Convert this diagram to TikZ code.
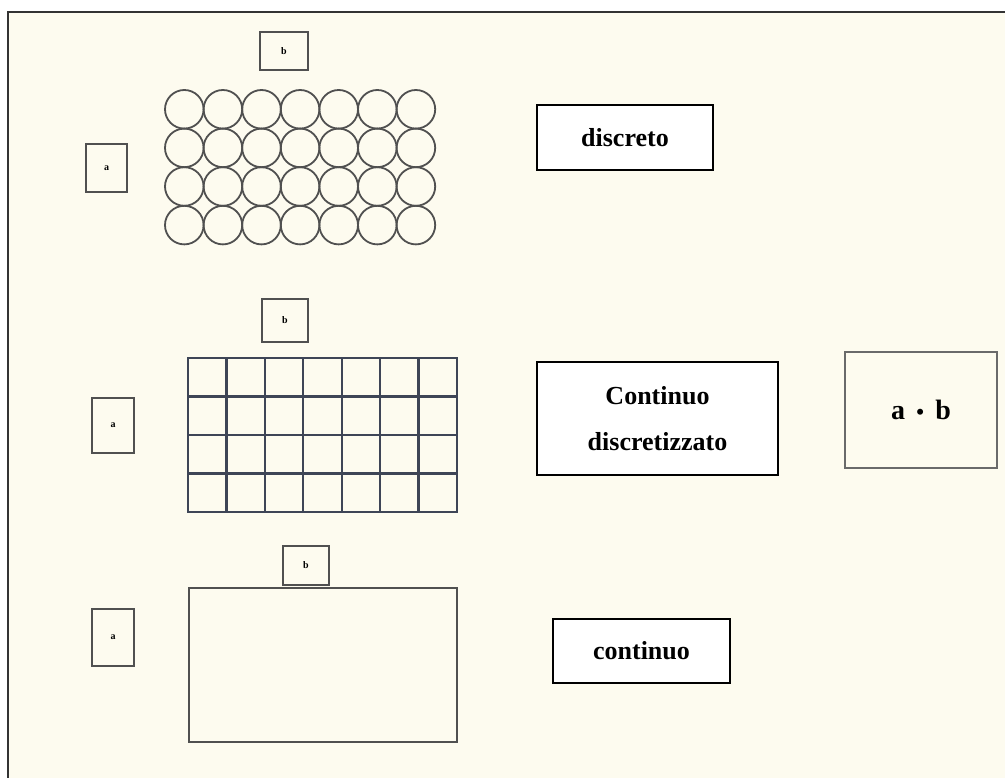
\documentclass[tikz,border=0pt]{standalone}
\usepackage{fontspec}
\setmainfont{Liberation Serif}
\definecolor{paper}{HTML}{FDFBEF}
\definecolor{pencil}{HTML}{505050}
\definecolor{gridink}{HTML}{3E4556}
\tikzset{
  side/.style={draw=pencil, line width=1.8pt, inner sep=0pt, font=\bfseries\fontsize{10}{10}\selectfont},
  word/.style={draw=black, line width=1.8pt, fill=white, inner sep=0pt, align=center,
    font=\bfseries\fontsize{26}{46}\selectfont}
}
\begin{document}
\begin{tikzpicture}[x=1pt,y=-1pt]
\useasboundingbox (0,0) rectangle (1005,778);
\fill[white] (0,0) rectangle (1005,778);
\fill[paper] (8,12) rectangle (1005,778);
\draw[line width=2.2pt, black!80] (8,778)--(8,12)--(1005,12);

% discreto
\node[side, minimum width=48pt, minimum height=38pt] (b1) at (284,51) {b};
\node[side, minimum width=41pt, minimum height=48pt] (a1) at (106.5,168) {a};
\foreach \i in {0,1,...,6}{
\foreach \j in {0,1,...,3}{
\draw[pencil, line width=1.8pt] (184.3+38.6*\i,109.3+38.6*\j) circle[radius=19.3];
}
}
\node[word, minimum width=176pt, minimum height=65pt] (discreto) at (625,137.5) {discreto};

% continuo discretizzato
\node[side, minimum width=46pt, minimum height=43pt] (b2) at (285,320.5) {b};
\node[side, minimum width=42pt, minimum height=55pt] (a2) at (113,425.5) {a};
\draw[gridink, line width=2.2pt] (188,358) rectangle (457,512);
\foreach \x in {1,2,...,6}{
\draw[gridink, line width=2.2pt] (188+38.43*\x,358)--(188+38.43*\x,512);
}
\foreach \y in {1,2,3}{
\draw[gridink, line width=2.2pt] (188,358+38.5*\y)--(457,358+38.5*\y);
}
\node[word, minimum width=241pt, minimum height=113pt] (contdisc) at (657.5,418.5) {Continuo\\discretizzato};
\node[draw=pencil!85, line width=1.8pt, inner sep=0pt, minimum width=152pt, minimum height=116pt,
  font=\bfseries\fontsize{28}{28}\selectfont] (prodotto) at (921,410) {a\hspace{0.4em}{\fontsize{22}{22}\selectfont•}\hspace{0.4em}b};

% continuo
\node[side, minimum width=46pt, minimum height=39pt] (b3) at (306,565.5) {b};
\node[side, minimum width=42pt, minimum height=57pt] (a3) at (113,637.5) {a};
\draw[pencil, line width=1.8pt] (189,588) rectangle (457,742);
\node[word, minimum width=177pt, minimum height=64pt] (continuo) at (641.5,651) {continuo};
\end{tikzpicture}
\end{document}
